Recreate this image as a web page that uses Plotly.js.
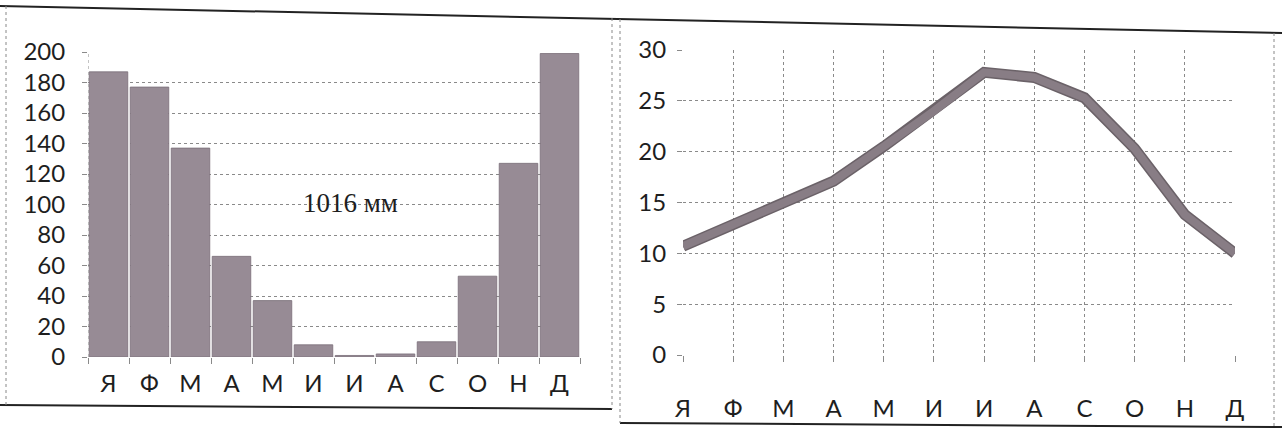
<!DOCTYPE html>
<html>
<head>
<meta charset="utf-8">
<script src="https://cdn.plot.ly/plotly-3.0.1.min.js"></script>
<style>html,body{margin:0;padding:0;background:#fff;}#chart{width:1282px;height:429px;}</style>
</head>
<body>
<div id="chart"></div>
<script>
// Data
const months = ["Я", "Ф", "М", "А", "М", "И", "И", "А", "С", "О", "Н", "Д"];
const precipitation = [187, 177, 137, 66, 37, 8, 1, 2, 10, 53, 127, 199];
const temperature = [10.7, 12.8, 15.0, 17.1, 20.5, 24.0, 27.8, 27.3, 25.3, 20.3, 13.8, 10.0];
const totalLabel = "1016 мм";

const W = 1282, H = 429;
const px = v => v / W;
const py = v => 1 - v / H;
const idx = months.map((_, i) => i);

const tickFont = {family: "Lato, 'Open Sans', sans-serif", size: 24, color: "#1e1e1e"};
const gridCol = "#8a8a8a";

const traces = [
  {
    type: "bar", x: idx, y: precipitation, xaxis: "x", yaxis: "y",
    marker: {color: "#978b95", line: {color: "#7a6f78", width: 0.8}},
    hoverinfo: "y"
  },
  {
    type: "scatter", mode: "lines", x: idx, y: temperature, xaxis: "x2", yaxis: "y2",
    line: {color: "#6b6268", width: 11}, hoverinfo: "skip", cliponaxis: false
  },
  {
    type: "scatter", mode: "lines", x: idx, y: temperature, xaxis: "x2", yaxis: "y2",
    line: {color: "#887d85", width: 8}, hoverinfo: "y", cliponaxis: false
  }
];

const layout = {
  width: W, height: H,
  margin: {l: 0, r: 0, t: 0, b: 0},
  paper_bgcolor: "#fff", plot_bgcolor: "rgba(0,0,0,0)",
  showlegend: false,
  bargap: 0.06,
  xaxis: {
    domain: [px(88), px(580)], range: [-0.5, 11.5], anchor: "y",
    tickmode: "array", tickvals: idx, ticktext: months,
    ticks: "", showgrid: false, zeroline: false, showline: false,
    tickfont: tickFont, ticklabelstandoff: 10,
    minor: {tickmode: "linear", tick0: -0.5, dtick: 1, ticks: "outside", ticklen: 6, tickcolor: gridCol, showgrid: false},
    fixedrange: true
  },
  yaxis: {
    domain: [py(357), py(52)], range: [0, 200], anchor: "x",
    tickmode: "linear", tick0: 0, dtick: 20,
    showgrid: true, gridcolor: gridCol, griddash: "dot", gridwidth: 1,
    zeroline: false, showline: false,
    ticks: "outside", ticklen: 5, tickcolor: gridCol,
    tickfont: tickFont, ticklabelstandoff: 12,
    fixedrange: true
  },
  xaxis2: {
    domain: [px(683), px(1235)], range: [0, 11], anchor: "y2",
    tickmode: "array", tickvals: idx, ticktext: months,
    showgrid: true, gridcolor: gridCol, griddash: "dot", gridwidth: 1,
    ticks: "outside", ticklen: 6, tickcolor: gridCol,
    zeroline: false, showline: false,
    tickfont: tickFont, ticklabelstandoff: 26,
    fixedrange: true
  },
  yaxis2: {
    domain: [py(355), py(50)], range: [0, 30], anchor: "x2",
    tickmode: "linear", tick0: 0, dtick: 5,
    showgrid: true, gridcolor: gridCol, griddash: "dot", gridwidth: 1,
    zeroline: false, showline: false,
    ticks: "outside", ticklen: 5, tickcolor: gridCol,
    tickfont: tickFont, ticklabelstandoff: 6,
    fixedrange: true
  },
  annotations: [
    {
      xref: "x", yref: "y", x: 5.9, y: 101, text: totalLabel, showarrow: false,
      font: {family: "'Liberation Serif', 'DejaVu Serif', serif", size: 27, color: "#1e1e1e"}
    }
  ],
  shapes: [
    // left chart y-axis dotted line
    {type: "line", xref: "x", yref: "y", x0: -0.5, x1: -0.5, y0: 0, y1: 200, line: {color: gridCol, width: 1, dash: "dot"}},
    // top and bottom heavy rules (scan is slightly tilted)
    {type: "line", xref: "paper", yref: "paper", x0: px(0), x1: px(1282), y0: py(6), y1: py(33), line: {color: "#222", width: 2}},
    {type: "line", xref: "paper", yref: "paper", x0: px(0), x1: px(612), y0: py(405), y1: py(409), line: {color: "#222", width: 2}},
    {type: "line", xref: "paper", yref: "paper", x0: px(620), x1: px(1282), y0: py(423), y1: py(427), line: {color: "#222", width: 2}},
    // panel borders (dotted)
    {type: "line", xref: "paper", yref: "paper", x0: px(6), x1: px(6), y0: py(6), y1: py(405), line: {color: "#888", width: 1, dash: "dot"}},
    {type: "line", xref: "paper", yref: "paper", x0: px(612), x1: px(612), y0: py(18), y1: py(409), line: {color: "#888", width: 1, dash: "dot"}},
    {type: "line", xref: "paper", yref: "paper", x0: px(620), x1: px(620), y0: py(19), y1: py(423), line: {color: "#888", width: 1, dash: "dot"}},
    {type: "line", xref: "paper", yref: "paper", x0: px(1274), x1: px(1274), y0: py(33), y1: py(427), line: {color: "#888", width: 1, dash: "dot"}}
  ]
};

Plotly.newPlot("chart", traces, layout, {displayModeBar: false, staticPlot: true});
</script>
</body>
</html>
